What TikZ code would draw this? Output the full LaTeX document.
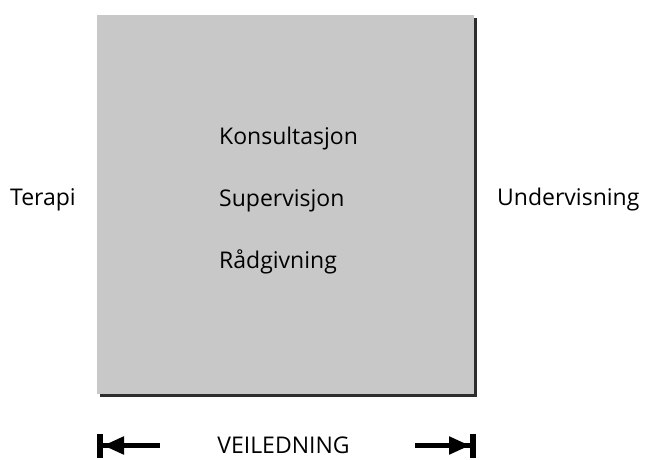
\documentclass[tikz,border=0pt]{standalone}
\usepackage{fontspec}
\setmainfont{Open Sans}
\usetikzlibrary{arrows.meta}
\definecolor{boxgray}{RGB}{200,200,200}
\definecolor{shadowgray}{RGB}{45,45,45}
\tikzstyle{word}=[inner sep=0pt, font=\fontsize{23}{28}\selectfont]
\tikzstyle{span}=[line width=5pt, -{Triangle[length=21pt,width=17pt]Bar[width=24pt,line width=6pt]}]
\newcommand{\word}{\node[word]}

\begin{document}
\begin{tikzpicture}[x=1pt,y=1pt]
\useasboundingbox (0,0) rectangle (646,459);
%%box with shadow
\fill[shadowgray] (100,62) rectangle (477,441);
\fill[boxgray] (97,65) rectangle (474,444);
\word (kons) at (219,315) [anchor=base west]{Konsultasjon};
\word (sup) at (219,253) [anchor=base west]{Supervisjon};
\word (rad) at (219,191) [anchor=base west]{Rådgivning};
%sides
\word (terapi) at (76,254) [anchor=base east]{Terapi};
\word (underv) at (497,254) [anchor=base west]{Undervisning};
%bottom
\word (veil) at (283.5,6) [anchor=base]{VEILEDNING};
\coordinate (lstart) at (160,13.5);
\coordinate (lend) at (97,13.5);
\coordinate (rstart) at (415,13.5);
\coordinate (rend) at (476,13.5);
\draw[span] (lstart) -- (lend);
\draw[span] (rstart) -- (rend);
\end{tikzpicture}
\end{document}
